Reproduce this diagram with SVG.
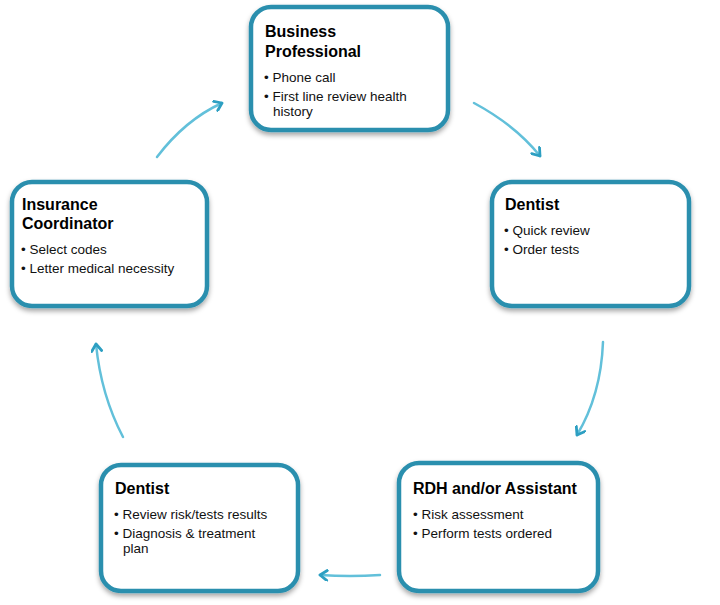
<svg xmlns="http://www.w3.org/2000/svg" width="720" height="605" viewBox="0 0 720 605">
<defs>
<filter id="sh" x="-10%" y="-10%" width="120%" height="125%">
<feDropShadow dx="0" dy="3" stdDeviation="2.5" flood-color="#000" flood-opacity="0.35"/>
</filter>
<marker id="ah" viewBox="0 0 12 12" refX="9" refY="6" markerWidth="12" markerHeight="12" markerUnits="userSpaceOnUse" orient="auto">
<path d="M2,1 L9,6 L2,11" fill="none" stroke="#2d9fc2" stroke-width="2.8" stroke-linecap="round" stroke-linejoin="round"/>
</marker>
</defs>
<style>
.box{fill:#fff;stroke:#2c8fae;stroke-width:4.5;filter:url(#sh)}
.t{font-family:"Liberation Sans",Arial,sans-serif;font-weight:bold;font-size:16px;fill:#000}
.b{font-family:"Liberation Sans",Arial,sans-serif;font-size:13.5px;fill:#111}
.c{fill:none;stroke:#62c0da;stroke-width:2.5;stroke-linecap:round;marker-end:url(#ah)}
</style>
<rect width="720" height="605" fill="#fff"/>
<g id="connectors">
<path class="c" d="M157,157 Q185,120 222,103"/>
<path class="c" d="M474,103 Q515,125 540,156"/>
<path class="c" d="M603,342 Q601,395 577,435"/>
<path class="c" d="M380,575 Q350,577 320,575"/>
<path class="c" d="M123,437 Q101,395 96,344"/>
</g>
<g id="business-professional">
<rect class="box" x="251" y="7" width="197" height="123" rx="20"/>
<text class="t" x="265" y="37">Business</text>
<text class="t" x="265" y="57">Professional</text>
<text class="b" x="264" y="82">• Phone call</text>
<text class="b" x="264" y="101">• First line review health</text>
<text class="b" x="273" y="116">history</text>
</g>
<g id="dentist-1">
<rect class="box" x="492" y="182" width="197" height="124" rx="20"/>
<text class="t" x="505" y="210">Dentist</text>
<text class="b" x="504" y="235">• Quick review</text>
<text class="b" x="504" y="254">• Order tests</text>
</g>
<g id="rdh-assistant">
<rect class="box" x="399" y="463" width="199" height="128" rx="20"/>
<text class="t" x="413" y="494">RDH and/or Assistant</text>
<text class="b" x="413" y="519">• Risk assessment</text>
<text class="b" x="413" y="538">• Perform tests ordered</text>
</g>
<g id="dentist-2">
<rect class="box" x="101" y="465" width="197" height="126" rx="20"/>
<text class="t" x="115" y="494">Dentist</text>
<text class="b" x="114" y="519">• Review risk/tests results</text>
<text class="b" x="114" y="538">• Diagnosis &amp; treatment</text>
<text class="b" x="123" y="553">plan</text>
</g>
<g id="insurance-coordinator">
<rect class="box" x="12" y="182" width="195" height="124" rx="20"/>
<text class="t" x="22" y="210">Insurance</text>
<text class="t" x="22" y="229">Coordinator</text>
<text class="b" x="21" y="254">• Select codes</text>
<text class="b" x="21" y="273">• Letter medical necessity</text>
</g>
</svg>
